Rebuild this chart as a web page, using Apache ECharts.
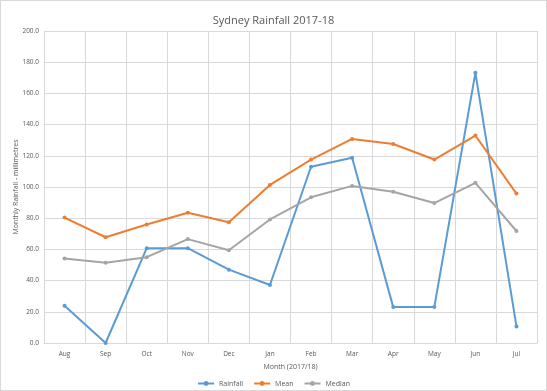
<!DOCTYPE html>
<html><head><meta charset="utf-8">
<script src="https://cdn.jsdelivr.net/npm/echarts@6/dist/echarts.min.js"></script>
<style>html,body{margin:0;padding:0;background:#fff}#c{width:545px;height:389px;border:1px solid #d9d9d9}</style>
</head><body><div id="c"></div>
<script>
var months = ['Aug','Sep','Oct','Nov','Dec','Jan','Feb','Mar','Apr','May','Jun','Jul'];
var rainfall = [23.9, 0, 60.8, 60.8, 47.0, 37.2, 113.0, 118.8, 23.0, 23.0, 173.2, 10.6];
var mean = [80.4, 67.8, 76.0, 83.5, 77.4, 101.3, 117.6, 130.8, 127.6, 117.6, 133.0, 95.8];
var median = [54.1, 51.5, 55.0, 66.6, 59.5, 79.2, 93.4, 100.7, 97.0, 89.7, 102.7, 71.8];
var yTicks = [0, 20, 40, 60, 80, 100, 120, 140, 160, 180, 200];
var textColor = '#595959';
var chart = echarts.init(document.getElementById('c'));
function s(name, data, color){
  return {name:name, type:'line', data:data, symbol:'circle', symbolSize:4,
    lineStyle:{color:color, width:2}, itemStyle:{color:color}};
}
chart.setOption({
  animation:false,
  title:{text:'Sydney Rainfall 2017-18', left:'center', top:9,
    textStyle:{fontFamily:'Open Sans', fontSize:11, fontWeight:'normal', color:textColor}},
  grid:{left:43, right:9, top:30, bottom:47, containLabel:false, outerBoundsMode:'none'},
  legend:{top:379, left:'center', itemWidth:16, itemHeight:6, itemGap:10, padding:0,
    textStyle:{fontFamily:'Open Sans', fontSize:7, color:textColor}},
  xAxis:{type:'category', data:months, boundaryGap:true,
    name:'Month (2017/18)', nameLocation:'middle', nameGap:20, nameMoveOverlap:false,
    nameTextStyle:{fontFamily:'Open Sans', fontSize:7, color:textColor},
    axisLine:{lineStyle:{color:'#d9d9d9'}}, axisTick:{show:false},
    axisLabel:{fontFamily:'Open Sans', fontSize:6.5, color:textColor, margin:8},
    splitLine:{show:true, lineStyle:{color:'#d9d9d9'}}},
  yAxis:{type:'value', min:yTicks[0], max:yTicks[yTicks.length-1], interval:20,
    name:'Monthly Rainfall - millimetres', nameLocation:'middle', nameGap:25, nameMoveOverlap:false,
    nameTextStyle:{fontFamily:'Open Sans', fontSize:7, color:textColor},
    axisLine:{show:true, lineStyle:{color:'#d9d9d9'}}, axisTick:{show:false},
    axisLabel:{fontFamily:'Open Sans', fontSize:6.5, color:textColor, margin:5,
      formatter:function(v){return v.toFixed(1);}},
    splitLine:{lineStyle:{color:'#d9d9d9'}}},
  series:[s('Rainfall', rainfall, '#5B9BD5'), s('Mean', mean, '#ED7D31'), s('Median', median, '#A5A5A5')]
});
</script></body></html>
